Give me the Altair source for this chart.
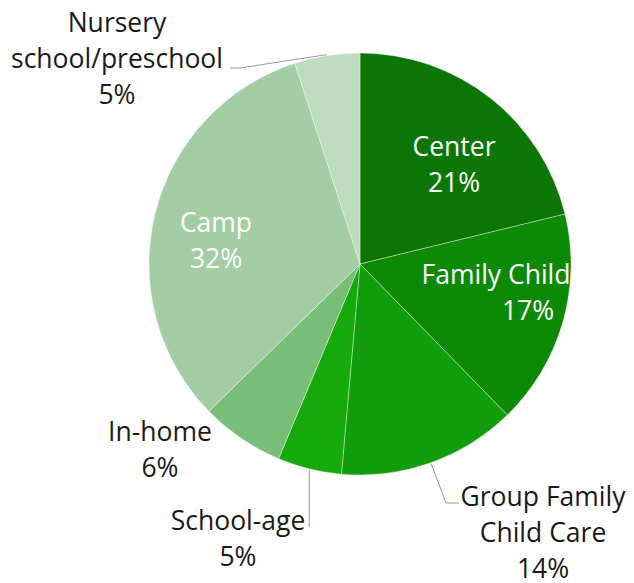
import math
import altair as alt
import pandas as pd

# ---- data ----
categories = ["Center", "Family Child", "Group Family\nChild Care", "School-age",
              "In-home", "Camp", "Nursery\nschool/preschool"]
shares = [21.2, 16.5, 13.7, 4.9, 6.4, 32.3, 5.0]
pct_labels = ["21%", "17%", "14%", "5%", "6%", "32%", "5%"]
colors = ["#0b7604", "#0d8a05", "#129d0c", "#16a90c", "#78bd78", "#a3cda3", "#c0dcc0"]

# ---- layout (page pixels) ----
W, H = 618, 575
OFF = 8
CX, CY, R = 360, 264, 211
LINE_H = 36
FONT_SIZE = 26.5
inside = {"Center", "Family Child", "Camp"}
label_pos = {
    "Center": (454, 164, 0),
    "Family Child": (496, 292.5, 32),
    "Group Family\nChild Care": (543, 532, 0),
    "School-age": (238, 538, 0),
    "In-home": (160, 449, 0),
    "Camp": (216, 240, 0),
    "Nursery\nschool/preschool": (117, 58, 0),
}
# leader line elbow/end points (page pixels); None = vertical from slice edge
leaders = {
    "Nursery\nschool/preschool": [(240, 68), (230, 68)],
    "Group Family\nChild Care": [(446, 503), (459, 503)],
    "School-age": [(None, 527)],
}

pie_df = pd.DataFrame({"category": categories, "share": shares,
                       "idx": list(range(len(categories)))})

# mid-angles from data
total = sum(shares)
cum = 0.0
mid = {}
for c, s in zip(categories, shares):
    mid[c] = (cum + s / 2) / total * 2 * math.pi
    cum += s

# text rows
trows = []
for c, p in zip(categories, pct_labels):
    x, y, pdx = label_pos[c]
    lines = c.split("\n") + [p]
    n = len(lines)
    for i, t in enumerate(lines):
        yy = y + (i - (n - 1) / 2) * LINE_H + 9.5
        xx = x + (pdx if i == n - 1 else 0)
        trows.append({"t": t, "x": xx - OFF, "y": yy - OFF,
                      "tc": "#ffffff" if c in inside else "#1a1a1a"})
text_df = pd.DataFrame(trows)

# leader rows
lrows = []
for c, pts in leaders.items():
    a = mid[c]
    sx = CX + (R + 1) * math.sin(a)
    sy = CY - (R + 1) * math.cos(a)
    seq = [(sx, sy)] + [((sx if px is None else px), py) for px, py in pts]
    for k, (px, py) in enumerate(seq):
        lrows.append({"g": c, "k": k, "x": px - OFF, "y": py - OFF})
lead_df = pd.DataFrame(lrows)

xs = alt.Scale(domain=[0, W], range=[0, W])
ys = alt.Scale(domain=[0, H], range=[0, H])

pie = alt.Chart(pie_df).mark_arc(outerRadius=R, stroke="#ffffff", strokeWidth=0.6,
                                 strokeOpacity=0.6).encode(
    theta=alt.Theta("share:Q", stack=True),
    order=alt.Order("idx:Q"),
    color=alt.Color("category:N", scale=alt.Scale(domain=categories, range=colors), legend=None),
    x=alt.value(CX - OFF),
    y=alt.value(CY - OFF),
)

lines = alt.Chart(lead_df).mark_line(color="#999999", strokeWidth=1).encode(
    x=alt.X("x:Q", scale=xs, axis=None),
    y=alt.Y("y:Q", scale=ys, axis=None),
    detail="g:N",
    order="k:Q",
)

texts = alt.Chart(text_df).mark_text(font="Open Sans", fontSize=FONT_SIZE, align="center",
                                     baseline="alphabetic").encode(
    x=alt.X("x:Q", scale=xs, axis=None),
    y=alt.Y("y:Q", scale=ys, axis=None),
    text="t:N",
    color=alt.Color("tc:N", scale=None),
)

chart = alt.layer(pie, lines, texts).properties(
    width=W, height=H, padding=0, autosize=alt.AutoSizeParams(type="none")
).configure_view(stroke=None)

chart.save("out.html", embed_options={"renderer": "svg", "actions": False})
